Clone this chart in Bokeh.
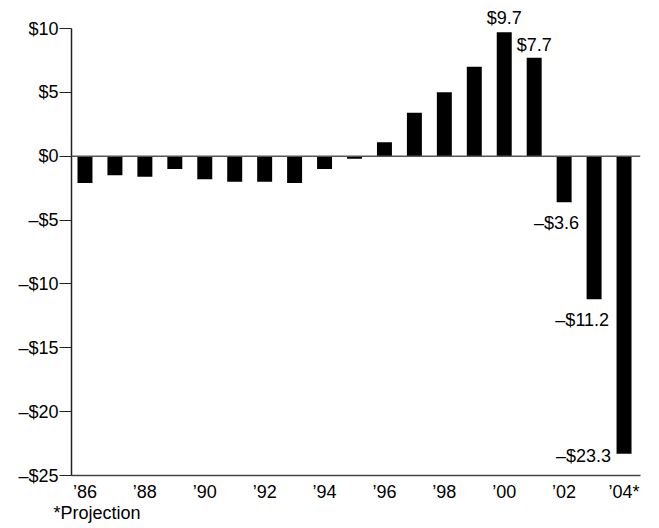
from bokeh.plotting import figure
from bokeh.models import FixedTicker, Span, Label, Range1d, Title
from bokeh.embed import file_html
from bokeh.resources import INLINE

years = list(range(1986, 2005))
balance = [-2.1, -1.5, -1.6, -1.0, -1.8, -2.0, -2.0, -2.1, -1.0, -0.2,
           1.1, 3.4, 5.0, 7.0, 9.7, 7.7, -3.6, -11.2, -23.3]

y_ticks = [-25, -20, -15, -10, -5, 0, 5, 10]
y_tick_labels = ["\u2013$25", "\u2013$20", "\u2013$15", "\u2013$10", "\u2013$5", "$0", "$5", "$10"]
x_ticks = [1986, 1988, 1990, 1992, 1994, 1996, 1998, 2000, 2002, 2004]
x_tick_labels = ["\u201986", "\u201988", "\u201990", "\u201992", "\u201994", "\u201996",
                 "\u201998", "\u201900", "\u201902", "\u201904*"]

label_years = [2000, 2001, 2002, 2003, 2004]
label_texts = ["$9.7", "$7.7", "\u2013$3.6", "\u2013$11.2", "\u2013$23.3"]
footnote = "*Projection"

FONT = "Liberation Sans"
FS = "18px"

p = figure(width=651, height=526, output_backend="svg", toolbar_location=None,
           x_range=Range1d(1985.55, 2004.55), y_range=Range1d(-25, 11.566),
           min_border_left=71, min_border_right=11, min_border_top=8, min_border_bottom=51)
p.outline_line_color = None
p.xgrid.visible = False
p.ygrid.visible = False
p.background_fill_color = "white"
p.border_fill_color = "white"

p.vbar(x=years, top=balance, bottom=0, width=0.5, fill_color="black", line_color=None)

zero = Span(location=0, dimension="width", line_color="#555555", line_width=1.5)
p.add_layout(zero)

p.yaxis.ticker = FixedTicker(ticks=y_ticks)
p.yaxis.major_label_overrides = {t: l for t, l in zip(y_ticks, y_tick_labels)}
p.yaxis.bounds = (y_ticks[0], y_ticks[-1])
p.yaxis.major_tick_out = 12
p.yaxis.major_tick_in = 0
p.yaxis.minor_tick_line_color = None
p.yaxis.major_label_standoff = 1
p.yaxis.axis_line_color = "#222222"
p.yaxis.major_tick_line_color = "#222222"
p.yaxis.axis_line_width = 1.5
p.yaxis.major_tick_line_width = 1.2

p.xaxis.ticker = FixedTicker(ticks=x_ticks)
p.xaxis.major_label_overrides = {t: l for t, l in zip(x_ticks, x_tick_labels)}
p.xaxis.major_tick_line_color = None
p.xaxis.major_tick_out = 0
p.xaxis.major_tick_in = 0
p.xaxis.minor_tick_line_color = None
p.xaxis.minor_tick_out = 0
p.xaxis.major_label_standoff = 6
p.xaxis.axis_line_color = "#444444"
p.xaxis.axis_line_width = 1.5

for ax in (p.xaxis, p.yaxis):
    ax.major_label_text_font = FONT
    ax.major_label_text_font_size = FS
    ax.major_label_text_color = "black"

vals = dict(zip(years, balance))
specs = [
    ("center", 0, 14),
    ("center", 0, 13),
    ("right", 15, -21),
    ("right", 15, -21),
    ("right", -13, -2),
]
for yr, txt, (al, xo, yo) in zip(label_years, label_texts, specs):
    p.add_layout(Label(x=yr, y=vals[yr], text=txt, text_align=al, text_baseline="alphabetic",
                       x_offset=xo, y_offset=yo, text_font=FONT, text_font_size=FS,
                       text_color="black"))

p.add_layout(Title(text=footnote, align="left", offset=-18, standoff=-8,
                   text_font=FONT, text_font_size=FS, text_font_style="normal",
                   text_color="black"), "below")

open("out.html", "w").write(file_html(p, INLINE))
